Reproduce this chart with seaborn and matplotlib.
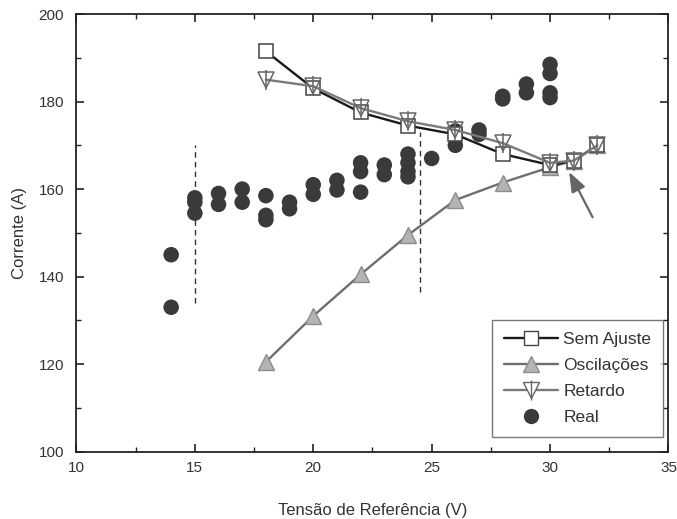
import matplotlib.pyplot as plt
import matplotlib.lines as mlines
import seaborn as sns

# dados
tensao = [18, 20, 22, 24, 26, 28, 30, 31, 32]
sem_ajuste = [191.5, 183, 177.5, 174.5, 172.5, 168, 165.5, 166.5, 170]
oscilacoes = [120.5, 131, 140.5, 149.5, 157.5, 161.5, 165, 166.5, 170]
retardo = [185, 183.5, 178.5, 175.5, 173.5, 170.5, 166, 166.5, 170]

real_x = [14, 14, 15, 15, 15, 16, 16, 17, 17, 18, 18, 18, 19, 19, 20, 20,
          21, 21, 22, 22, 22, 23, 23, 24, 24, 24, 24, 25, 26, 26, 26, 27, 27,
          28, 28, 29, 29, 30, 30, 30, 30]
real_y = [145, 133, 158, 157, 154.5, 159, 156.5, 160, 157, 158.5, 154, 153,
          157, 155.5, 161, 158.8, 162, 159.8, 166, 164, 159.3, 165.5, 163.3,
          168, 166, 164, 162.8, 167, 173.3, 172, 170, 173.5, 172.5,
          181.2, 180.6, 184, 182, 188.5, 186.4, 182, 180.9]

sns.set_style("ticks")
plt.rcParams["font.family"] = ["Liberation Sans", "DejaVu Sans"]

fig = plt.figure(figsize=(6.77, 5.19), dpi=100)
ax = fig.add_axes([0.1129, 0.1297, 0.8745, 0.8433])

# linhas tracejadas verticais
ax.plot([15, 15], [134, 170], ls=(0, (4, 3)), color="#333333", lw=1)
ax.plot([24.5, 24.5], [136.5, 173], ls=(0, (4, 3)), color="#333333", lw=1)

sns.lineplot(x=tensao, y=oscilacoes, ax=ax, color="#6e6e6e", lw=1.7,
             marker="^", markersize=12, markerfacecolor="#b4b4b4",
             markeredgecolor="#8c8c8c", markeredgewidth=1, zorder=3)
sns.lineplot(x=tensao, y=sem_ajuste, ax=ax, color="#1a1a1a", lw=1.7,
             marker="s", markersize=9.5, markerfacecolor="white",
             markeredgecolor="#444444", markeredgewidth=1.1, zorder=4)
sns.lineplot(x=tensao, y=retardo, ax=ax, color="#7a7a7a", lw=1.7,
             marker="v", markersize=12, markerfacecolor="none",
             markeredgecolor="#666666", markeredgewidth=1.1, zorder=5)
ax.plot(tensao, retardo, ls="none", marker="|", markersize=14,
        markeredgecolor="#666666", markeredgewidth=1.1, zorder=5)
sns.scatterplot(x=real_x, y=real_y, ax=ax, color="#3a3a3a", s=125,
                edgecolor="none", zorder=2)

# seta
ax.annotate("", xy=(30.75, 164.5), xytext=(31.85, 153),
            arrowprops=dict(arrowstyle="-|>,head_length=1.2,head_width=0.45",
                            color="#666666", lw=1.6))

ax.set_xlim(10, 35)
ax.set_ylim(100, 200)
ax.set_xticks(range(10, 36, 5))
ax.set_xticks([12.5, 17.5, 22.5, 27.5, 32.5], minor=True)
ax.set_yticks(range(100, 201, 20))
ax.set_yticks(range(110, 200, 20), minor=True)
ax.tick_params(which="both", direction="in", top=True, right=True,
               colors="#222222", labelcolor="#333333", labelsize=11)
ax.tick_params(which="major", length=6, width=1.2)
ax.tick_params(which="minor", length=3.5, width=1)
ax.tick_params(axis="y", which="major", pad=9)
ax.tick_params(axis="x", which="major", pad=7)
for s in ax.spines.values():
    s.set_color("#222222")
    s.set_linewidth(1.3)

ax.set_xlabel("Tensão de Referência (V)", fontsize=12, color="#333333",
              labelpad=20)
ax.set_ylabel("Corrente (A)", fontsize=12, color="#333333", labelpad=8)

h1 = mlines.Line2D([], [], color="#1a1a1a", lw=1.7, marker="s", markersize=9.5,
                   markerfacecolor="white", markeredgecolor="#444444")
h2 = mlines.Line2D([], [], color="#6e6e6e", lw=1.7, marker="^", markersize=12,
                   markerfacecolor="#b4b4b4", markeredgecolor="#8c8c8c")
h3a = mlines.Line2D([], [], color="#7a7a7a", lw=1.7, marker="v", markersize=12,
                    markerfacecolor="white", markeredgecolor="#666666")
h3b = mlines.Line2D([], [], ls="none", marker="|", markersize=14,
                    markeredgecolor="#666666")
h4 = mlines.Line2D([], [], ls="none", marker="o", markersize=11,
                   markerfacecolor="#3a3a3a", markeredgecolor="none")
leg = ax.legend([h1, h2, (h3a, h3b), h4],
                ["Sem Ajuste", "Oscilações", "Retardo", "Real"],
                loc="lower right", bbox_to_anchor=(0.9916, 0.034),
                borderaxespad=0, fontsize=12.5, frameon=True, fancybox=False,
                handlelength=3.1, labelspacing=0.62, borderpad=0.7,
                handletextpad=0.3)
leg.get_frame().set_edgecolor("#555555")
leg.get_frame().set_linewidth(1)
for t in leg.get_texts():
    t.set_color("#333333")

fig.savefig("out.png", dpi=100)
